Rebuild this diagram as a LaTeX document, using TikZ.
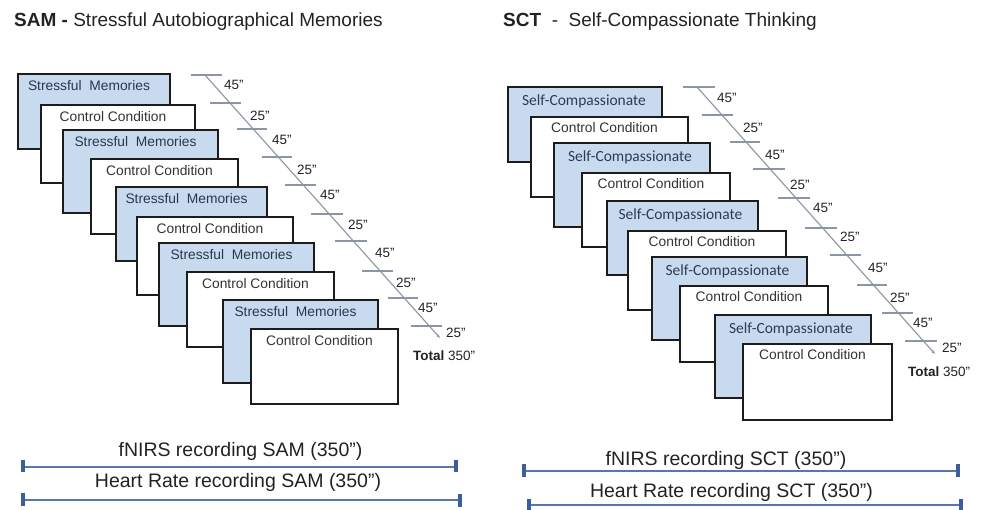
\documentclass[tikz,border=0pt]{standalone}
\usepackage{fontspec}
\setmainfont{Liberation Sans}
\newfontfamily\calfont{Carlito}
\usetikzlibrary{arrows.meta}
\definecolor{boxblue}{HTML}{C8DBEE}
\definecolor{boxline}{HTML}{1C1C1C}
\definecolor{stresstxt}{HTML}{28384C}
\definecolor{comptxt}{HTML}{2A3D58}
\definecolor{ctrltxt}{HTML}{333333}
\definecolor{tlgray}{HTML}{8C95A3}
\definecolor{recblue}{HTML}{5878AC}
\definecolor{capblue}{HTML}{3D5E9C}
\definecolor{titletxt}{HTML}{222222}
\newcommand\condbox[6]{%
  \node[#6, minimum width={(#4-#2)*1pt}, minimum height={(#5-#3)*1pt}, anchor=north west] (#1) at (#2,#3) {};}
\begin{document}
\begin{tikzpicture}[x=1pt,y=-1pt,
  bluebox/.style={draw=boxline, line width=1.8pt, fill=boxblue, inner sep=0pt, outer sep=0pt},
  whitebox/.style={draw=boxline, line width=1.8pt, fill=white, inner sep=0pt, outer sep=0pt},
  stxt/.style={inner sep=0pt, anchor=base, text=stresstxt, font=\fontsize{13.8}{15}\selectfont},
  ctxt/.style={inner sep=0pt, anchor=base, text=ctrltxt, font=\fontsize{13.8}{15}\selectfont},
  sctxt/.style={inner sep=0pt, anchor=base, text=comptxt, font=\calfont\fontsize{15.5}{17}\selectfont},
  tline/.style={draw=tlgray, line width=1.1pt},
  tick/.style={draw=tlgray, line width=1.2pt},
  tlab/.style={inner sep=0pt, anchor=west, text=titletxt, font=\fontsize{13.5}{15}\selectfont},
  ttl/.style={inner sep=0pt, anchor=base west, text=titletxt, font=\fontsize{19}{21}\selectfont},
  rtxt/.style={inner sep=0pt, anchor=base, text=titletxt, font=\fontsize{19.5}{21}\selectfont},
  recline/.style={draw=recblue, line width=1.3pt},
  reccap/.style={draw=capblue, line width=4pt}
]
\useasboundingbox (0,0) rectangle (986,510);

% titles
\node[ttl] (t1) at (14,26.5) {\textbf{SAM -} Stressful Autobiographical Memories};
\node[ttl] (t2) at (503,26.5) {\textbf{SCT}\ \ -\ \ Self-Compassionate Thinking};

% ---------- SAM stack ----------
\condbox{L1}{18}{74}{170}{149}{bluebox}
\node[stxt] (L1t) at ([xshift=-5pt,yshift=-16.5pt]L1.north) {Stressful\ \ Memories};
\condbox{L2}{41}{105}{195}{183}{whitebox}
\node[ctxt] (L2t) at ([xshift=-5pt,yshift=-16.5pt]L2.north) {Control Condition};
\condbox{L3}{63}{130}{218}{213}{bluebox}
\node[stxt] (L3t) at ([xshift=-5pt,yshift=-16.5pt]L3.north) {Stressful\ \ Memories};
\condbox{L4}{91}{159}{238}{234}{whitebox}
\node[ctxt] (L4t) at ([xshift=-5pt,yshift=-16.5pt]L4.north) {Control Condition};
\condbox{L5}{116}{187}{267}{261}{bluebox}
\node[stxt] (L5t) at ([xshift=-5pt,yshift=-16.5pt]L5.north) {Stressful\ \ Memories};
\condbox{L6}{137}{217}{293}{295}{whitebox}
\node[ctxt] (L6t) at ([xshift=-5pt,yshift=-16.5pt]L6.north) {Control Condition};
\condbox{L7}{159}{243}{314}{326}{bluebox}
\node[stxt] (L7t) at ([xshift=-5pt,yshift=-16.5pt]L7.north) {Stressful\ \ Memories};
\condbox{L8}{187}{272}{334}{347}{whitebox}
\node[ctxt] (L8t) at ([xshift=-5pt,yshift=-16.5pt]L8.north) {Control Condition};
\condbox{L9}{223}{300}{378}{383}{bluebox}
\node[stxt] (L9t) at ([xshift=-5pt,yshift=-16.5pt]L9.north) {Stressful\ \ Memories};
\condbox{L10}{251}{329}{398}{404}{whitebox}
\node[ctxt] (L10t) at ([xshift=-5pt,yshift=-16.5pt]L10.north) {Control Condition};

% SAM timeline
\coordinate (lA) at (205,75);
\coordinate (lB) at (440,338);
\draw[tline, -{Stealth[length=4pt,width=3pt]}] (lA) -- (lB);
\foreach \yy/\xa/\xb in {75/191/222,103/210/241,129/237/267,157/262/292,185/285/316,214/311/343,241/335/367,271/362/393,298/388/418,326/411/442}
  \draw[tick] (\xa,\yy) -- (\xb,\yy);
\foreach \xx/\yy/\tt [count=\i] in {224/85/45,250/116/25,272/140/45,297/170/25,320/195/45,348/225/25,375/253/45,396/283/25,418/308/45,446/333/25}
  \node[tlab] (lt\i) at (\xx,\yy) {\tt"};
\node[tlab] (ltot) at (413,356) {\textbf{Total} 350"};

% ---------- SCT stack ----------
\condbox{R1}{508}{87}{662}{162}{bluebox}
\node[sctxt] (R1t) at ([xshift=-1pt,yshift=-18.5pt]R1.north) {Self-Compassionate};
\condbox{R2}{531}{117}{688}{197}{whitebox}
\node[ctxt] (R2t) at ([xshift=-5pt,yshift=-16pt]R2.north) {Control Condition};
\condbox{R3}{554}{143}{710}{227}{bluebox}
\node[sctxt] (R3t) at ([xshift=-2pt,yshift=-18.5pt]R3.north) {Self-Compassionate};
\condbox{R4}{582}{173}{730}{247}{whitebox}
\node[ctxt] (R4t) at ([xshift=-5pt,yshift=-16pt]R4.north) {Control Condition};
\condbox{R5}{607}{201}{758}{275}{bluebox}
\node[sctxt] (R5t) at ([xshift=-2pt,yshift=-18.5pt]R5.north) {Self-Compassionate};
\condbox{R6}{628}{231}{786}{310}{whitebox}
\node[ctxt] (R6t) at ([xshift=-5pt,yshift=-16pt]R6.north) {Control Condition};
\condbox{R7}{652}{257}{807}{340}{bluebox}
\node[sctxt] (R7t) at ([xshift=-2pt,yshift=-18.5pt]R7.north) {Self-Compassionate};
\condbox{R8}{680}{286}{828}{362}{whitebox}
\node[ctxt] (R8t) at ([xshift=-5pt,yshift=-16pt]R8.north) {Control Condition};
\condbox{R9}{715}{315}{871}{398}{bluebox}
\node[sctxt] (R9t) at ([xshift=-2pt,yshift=-18.5pt]R9.north) {Self-Compassionate};
\condbox{R10}{743}{344}{892}{420}{whitebox}
\node[ctxt] (R10t) at ([xshift=-5pt,yshift=-16pt]R10.north) {Control Condition};

% SCT timeline
\coordinate (rA) at (697,87);
\coordinate (rB) at (935,354);
\draw[tline, -{Stealth[length=4pt,width=3pt]}] (rA) -- (rB);
\foreach \yy/\xa/\xb in {87/683/715,115/702/733,142/730/760,169/753/785,198/778/810,228/805/837,255/830/861,285/857/887,313/882/913,341/905/937}
  \draw[tick] (\xa,\yy) -- (\xb,\yy);
\foreach \xx/\yy/\tt [count=\i] in {717/98/45,743/128/25,765/155/45,790/185/25,813/208/45,840/237/25,868/268/45,890/298/25,913/323/45,942/348/25}
  \node[tlab] (rt\i) at (\xx,\yy) {\tt"};
\node[tlab] (rtot) at (908,372) {\textbf{Total} 350"};

% ---------- recordings ----------
\node[rtxt] (fs) at (240.5,457) {fNIRS recording SAM (350”)};
\coordinate (fsA) at (23,467);
\coordinate (fsB) at (456,467);
\draw[recline] (fsA) -- (fsB);
\draw[reccap] ([yshift=6.5pt]fsA) -- ([yshift=-5pt]fsA);
\draw[reccap] ([yshift=6.5pt]fsB) -- ([yshift=-5pt]fsB);

\node[rtxt] (hs) at (238,488) {Heart Rate recording SAM (350”)};
\coordinate (hsA) at (23,500);
\coordinate (hsB) at (460,500);
\draw[recline] (hsA) -- (hsB);
\draw[reccap] ([yshift=7pt]hsA) -- ([yshift=-6pt]hsA);
\draw[reccap] ([yshift=6pt]hsB) -- ([yshift=-7pt]hsB);

\node[rtxt] (fc) at (726,466) {fNIRS recording SCT (350”)};
\coordinate (fcA) at (524,471);
\coordinate (fcB) at (958,471);
\draw[recline] (fcA) -- (fcB);
\draw[reccap] ([yshift=6.5pt]fcA) -- ([yshift=-6pt]fcA);
\draw[reccap] ([yshift=6.5pt]fcB) -- ([yshift=-6pt]fcB);

\node[rtxt] (hc) at (731.5,498) {Heart Rate recording SCT (350”)};
\coordinate (hcA) at (529,505);
\coordinate (hcB) at (961,505);
\draw[recline] (hcA) -- (hcB);
\draw[reccap] ([yshift=6pt]hcA) -- ([yshift=-6pt]hcA);
\draw[reccap] ([yshift=6pt]hcB) -- ([yshift=-6pt]hcB);
\end{tikzpicture}
\end{document}
